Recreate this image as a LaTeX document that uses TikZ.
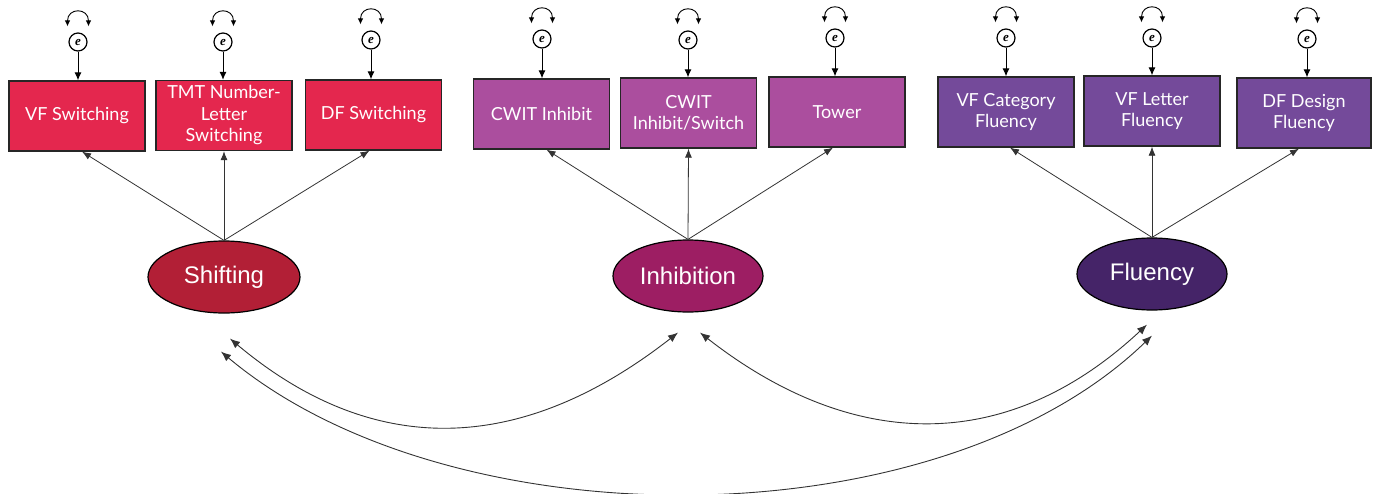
\documentclass[tikz,border=0pt]{standalone}
\usepackage{fontspec}
\setmainfont{Lato}
\newfontfamily\latentfont{Liberation Sans}
\newfontfamily\errfont{Liberation Serif}
\usetikzlibrary{shapes.geometric,arrows.meta}

\definecolor{shiftbox}{HTML}{E4274E}
\definecolor{shiftlat}{HTML}{B21F36}
\definecolor{inhibbox}{HTML}{AB4E9E}
\definecolor{inhiblat}{HTML}{9D1E63}
\definecolor{fluencybox}{HTML}{744A9A}
\definecolor{fluencylat}{HTML}{452468}
\definecolor{wire}{HTML}{333333}

\begin{document}
\begin{tikzpicture}[x=1pt,y=1pt,
  measure/.style={rectangle, draw=black!85, line width=1.3pt,
    minimum width=136pt, minimum height=70pt, inner sep=0pt,
    align=center, text=white, font=\fontsize{18}{21.5}\selectfont},
  latent/.style={ellipse, draw=black, line width=1.2pt,
    minimum width=150pt, minimum height=72pt, inner sep=0pt,
    text=white, font=\latentfont\fontsize{24}{28}\selectfont},
  err/.style={circle, draw=black, line width=1.2pt, minimum size=18pt,
    inner sep=0pt, font=\errfont\bfseries\itshape\fontsize{13}{13}\selectfont},
  load/.style={draw=wire, line width=0.8pt, -{Latex[length=9pt,width=7pt]}},
  errpath/.style={draw=black, line width=1pt, -{Latex[length=8pt,width=7pt]}},
  varloop/.style={draw=black, line width=0.9pt,
    {Latex[length=6pt,width=5.5pt]}-{Latex[length=6pt,width=5.5pt]}},
  cov/.style={draw=wire, line width=0.9pt,
    {Latex[length=10pt,width=8pt]}-{Latex[length=10pt,width=8pt]}}
]
\useasboundingbox (0,0) rectangle (1382,-493);

% observed indicators
\node[measure, fill=shiftbox] (b1) at (77,-116) {VF Switching};
\node[measure, fill=shiftbox] (b2) at (224,-115.5) {TMT Number-\\Letter\\Switching};
\node[measure, fill=shiftbox] (b3) at (373.5,-115) {DF Switching};
\node[measure, fill=inhibbox] (b4) at (541.5,-114) {CWIT Inhibit};
\node[measure, fill=inhibbox] (b5) at (688.5,-113) {CWIT\\Inhibit/Switch};
\node[measure, fill=inhibbox] (b6) at (837,-112) {Tower};
\node[measure, fill=fluencybox] (b7) at (1006,-112) {VF Category\\Fluency};
\node[measure, fill=fluencybox] (b8) at (1152,-111) {VF Letter\\Fluency};
\node[measure, fill=fluencybox, minimum width=134pt] (b9) at (1304,-113) {DF Design\\Fluency};

% residual terms with their variance loops
\foreach \i/\x/\y in {1/78/42, 2/223/42, 3/371/40, 4/542/39, 5/688/40,
                      6/835/38, 7/1006/38, 8/1152/38, 9/1307/39} {
  \node[err] (e\i) at (\x,-\y) {e};
  \draw[errpath] (e\i) -- (e\i |- b\i.north);
  \draw[varloop] ([xshift=-10.5pt,yshift=6pt]e\i.north)
     .. controls +(0,19) and +(0,19) .. ([xshift=10.5pt,yshift=6pt]e\i.north);
}

% latent factors
\node[latent, fill=shiftlat, minimum width=152pt] (S) at (224,-277) {Shifting};
\node[latent, fill=inhiblat] (I) at (688,-276) {Inhibition};
\node[latent, fill=fluencylat] (F) at (1152,-274) {Fluency};

% factor loadings
\draw[load] (S.north) -- ([xshift=5pt]b1.south);
\draw[load] (S.north) -- (b2.south);
\draw[load] (S.north) -- ([xshift=-4pt]b3.south);
\draw[load] (I.north) -- ([xshift=5pt]b4.south);
\draw[load] (I.north) -- (b5.south);
\draw[load] (I.north) -- ([xshift=-4pt]b6.south);
\draw[load] (F.north) -- ([xshift=4pt]b7.south);
\draw[load] (F.north) -- (b8.south);
\draw[load] (F.north) -- ([xshift=-5pt]b9.south);

% factor covariances
\coordinate (sa) at ([shift={(6,-25)}]S.south);
\coordinate (sb) at ([shift={(-3,-38)}]S.south);
\coordinate (ia) at ([shift={(-10,-20)}]I.south);
\coordinate (ic) at ([shift={(12,-20)}]I.south);
\coordinate (fc) at ([shift={(-5,-14)}]F.south);
\coordinate (fb) at ([shift={(0,-25)}]F.south);
\draw[cov] (sa) to[out=-40, in=-142, looseness=1.1] (ia);
\draw[cov] (ic) to[out=-38, in=-137, looseness=1.1] (fc);
\draw[cov] (sb) to[out=-40, in=-136, looseness=0.82] (fb);
\end{tikzpicture}
\end{document}
